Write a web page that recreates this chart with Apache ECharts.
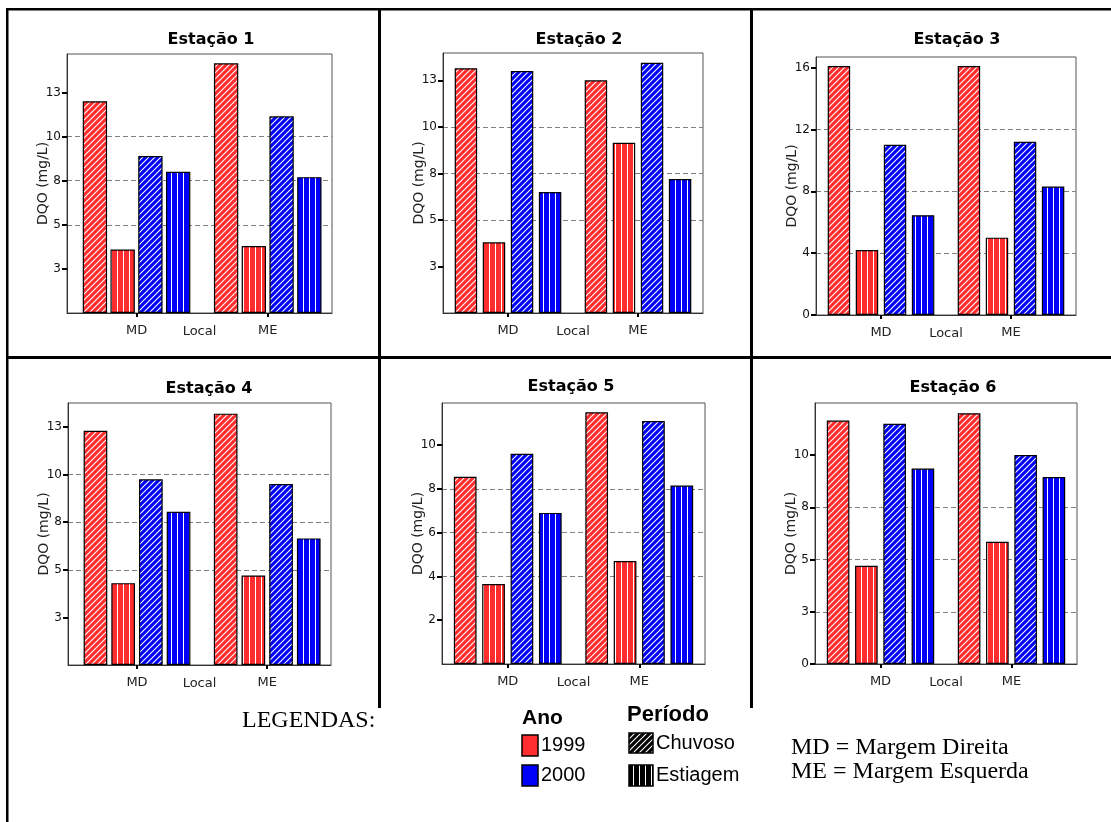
<!DOCTYPE html>
<html>
<head>
<meta charset="utf-8">
<title>DQO por estação</title>
<script src="https://cdn.jsdelivr.net/npm/echarts@6/dist/echarts.min.js"></script>
<style>
  html, body { margin: 0; padding: 0; background: #ffffff; }
  #chart { width: 1111px; height: 822px; }
</style>
</head>
<body>
<div id="chart"></div>
<script>
// ---- Data: DQO (mg/L) per station, values for [MD, ME] ----
const stations = ['Estação 1', 'Estação 2', 'Estação 3', 'Estação 4', 'Estação 5', 'Estação 6'];
const locais = ['MD', 'ME'];
const chuvoso1999  = [[12.0, 14.15], [13.15, 12.5], [16.1, 16.1], [12.3, 13.2], [8.55, 11.5], [11.65, 12.0]];
const estiagem1999 = [[3.6, 3.8],    [3.8, 9.15],   [4.2, 5.0],   [4.3, 4.7],   [3.65, 4.7], [4.7, 5.85]];
const chuvoso2000  = [[8.9, 11.15],  [13.0, 13.45], [11.0, 11.2], [9.75, 9.5],  [9.6, 11.1], [11.5, 10.0]];
const estiagem2000 = [[8.0, 7.7],    [6.5, 7.2],    [6.45, 8.3],  [8.05, 6.65], [6.9, 8.15], [9.35, 8.95]];
// y-axis scale of each station chart
const yMax  = [14.68, 13.97, 16.68, 13.76, 11.92, 12.49];
const yStep = [2.5, 2.5, 4, 2.5, 2, 2.5];
const yShowZero = [false, false, true, false, false, true];

// ---- Layout of the six plot frames (left, top, right, bottom) ----
const frames = [
  [67, 54, 332, 313], [443, 53, 703, 313], [816, 57, 1076, 315],
  [68, 403, 331, 665], [442, 403, 705, 664], [815, 403, 1077, 664]
];
const titlePos = [[211, 32], [579, 32], [957, 32], [209, 381], [571, 379], [953, 380]];
const xRange = [[0.47, 2.49], [0.5, 2.5], [0.5, 2.5], [0.47, 2.49], [0.5, 2.5], [0.5, 2.5]];
const barGaps = ['14%', '25%', '25%', '17%', '25%', '25%'];

const RED = '#ff2d2d';
const BLUE = '#0000fa';

// Hatch tiles: 'diag' = Chuvoso (////), 'vert' = Estiagem (||||)
function hatch(base, kind) {
  const s = 6;
  const c = document.createElement('canvas');
  c.width = s; c.height = s;
  const g = c.getContext('2d');
  g.fillStyle = base;
  g.fillRect(0, 0, s, s);
  if (kind === 'diag') {
    g.strokeStyle = '#ffffff';
    g.lineWidth = 1.1;
    g.beginPath();
    g.moveTo(-1, s + 1); g.lineTo(s + 1, -1);
    g.moveTo(-1, 1); g.lineTo(1, -1);
    g.moveTo(s - 1, s + 1); g.lineTo(s + 1, s - 1);
    g.stroke();
  } else {
    g.fillStyle = '#ffffff';
    g.fillRect(3, 0, 1, s);
  }
  return { image: c, repeat: 'repeat' };
}

const fills = {
  r1: hatch(RED, 'diag'), r2: hatch(RED, 'vert'),
  b1: hatch(BLUE, 'diag'), b2: hatch(BLUE, 'vert'),
  k1: hatch('#000000', 'diag'), k2: hatch('#000000', 'vert')
};

const FONT = '"DejaVu Sans", "Liberation Sans", sans-serif';

const grids = [], xAxes = [], yAxes = [], titles = [], series = [];

stations.forEach((name, i) => {
  const [l, t, r, b] = frames[i];
  grids.push({
    left: l, top: t, width: r - l, height: b - t,
    show: true, borderColor: '#555', borderWidth: 1,
    outerBoundsMode: 'none'
  });

  const ticks = [];
  for (let v = yShowZero[i] ? 0 : yStep[i]; v < yMax[i] - 1e-9; v += yStep[i]) ticks.push(+v.toFixed(4));

  titles.push({
    text: name, left: titlePos[i][0], top: titlePos[i][1], textAlign: 'center', padding: 0,
    textStyle: { fontFamily: FONT, fontWeight: 'bold', fontSize: 16, color: '#000' }
  });

  xAxes.push({
    gridIndex: i, type: 'value', min: xRange[i][0], max: xRange[i][1],
    name: 'Local', nameLocation: 'middle', nameGap: 12, nameMoveOverlap: false,
    nameTextStyle: { fontFamily: FONT, fontSize: 13, color: '#222' },
    axisLine: { show: true, lineStyle: { color: '#333', width: 1 } },
    axisTick: { show: true, customValues: [1, 2], length: 4, lineStyle: { color: '#000', width: 2 } },
    axisLabel: {
      customValues: [1, 2], margin: 11, fontFamily: FONT, fontSize: 13, color: '#222',
      formatter: v => locais[Math.round(v) - 1] || ''
    },
    splitLine: { show: false }
  });

  yAxes.push({
    gridIndex: i, type: 'value', min: 0, max: yMax[i], interval: yStep[i],
    name: 'DQO (mg/L)', nameLocation: 'middle', nameRotate: 90, nameGap: 17, nameMoveOverlap: false,
    nameTextStyle: { fontFamily: FONT, fontSize: 14, color: '#222' },
    axisLine: { show: true, lineStyle: { color: '#333', width: 1 } },
    axisTick: { show: true, customValues: ticks, length: 5, lineStyle: { color: '#000', width: 2 } },
    axisLabel: {
      customValues: ticks, margin: 6, fontFamily: FONT, fontSize: 12, color: '#111',
      formatter: v => String(Math.round(v))
    },
    splitLine: {
      show: true, showMinLine: false, showMaxLine: false,
      lineStyle: { color: '#808080', width: 1, type: [5, 3] }
    }
  });

  const groups = [
    ['1999 Chuvoso', chuvoso1999, fills.r1],
    ['1999 Estiagem', estiagem1999, fills.r2],
    ['2000 Chuvoso', chuvoso2000, fills.b1],
    ['2000 Estiagem', estiagem2000, fills.b2]
  ];
  groups.forEach(([sname, arr, fill]) => {
    series.push({
      name: sname, type: 'bar', xAxisIndex: i, yAxisIndex: i,
      barGap: barGaps[i], barCategoryGap: '18%',
      itemStyle: { color: fill, borderColor: '#000', borderWidth: 1.2 },
      data: locais.map((_, k) => [k + 1, arr[i][k]])
    });
  });
});

// Table rules and legend block
const LEG = '"Liberation Sans", Arial, sans-serif';
const SERIF = '"Liberation Serif", "Times New Roman", serif';
const rule = (x, y, w, h) => ({ type: 'rect', shape: { x, y, width: w, height: h }, style: { fill: '#000' }, silent: true });
const txt = (x, y, text, font, extra) => ({
  type: 'text', x, y, silent: true,
  style: Object.assign({ text, font, fill: '#000', textVerticalAlign: 'middle' }, extra || {})
});
const box = (x, y, w, h, fill) => ({
  type: 'rect', shape: { x, y, width: w, height: h }, silent: true,
  style: { fill, stroke: '#000', lineWidth: 1.5 }
});

const graphics = [
  rule(6, 8, 1105, 2.5),
  rule(6, 8, 2.5, 814),
  rule(6, 356, 1105, 3),
  rule(378, 8, 3, 700),
  rule(750, 8, 3, 700),
  txt(242, 721, 'LEGENDAS:', '24px ' + SERIF),
  txt(522, 718, 'Ano', 'bold 21px ' + LEG),
  txt(627, 715, 'Período', 'bold 22px ' + LEG),
  box(522, 735, 16, 21, RED),
  txt(541, 745.5, '1999', '20px ' + LEG),
  box(522, 765, 16, 21, BLUE),
  txt(541, 775.5, '2000', '20px ' + LEG),
  box(629, 733, 24, 20, fills.k1),
  txt(656, 743, 'Chuvoso', '20px ' + LEG),
  box(629, 765, 24, 21, fills.k2),
  txt(656, 775.5, 'Estiagem', '20px ' + LEG),
  txt(791, 748, 'MD = Margem Direita', '24px ' + SERIF),
  txt(791, 772, 'ME = Margem Esquerda', '24px ' + SERIF)
];

const chart = echarts.init(document.getElementById('chart'), null, { renderer: 'canvas' });
chart.setOption({
  animation: false,
  backgroundColor: '#ffffff',
  title: titles,
  grid: grids,
  xAxis: xAxes,
  yAxis: yAxes,
  series,
  graphic: graphics
});
</script>
</body>
</html>
